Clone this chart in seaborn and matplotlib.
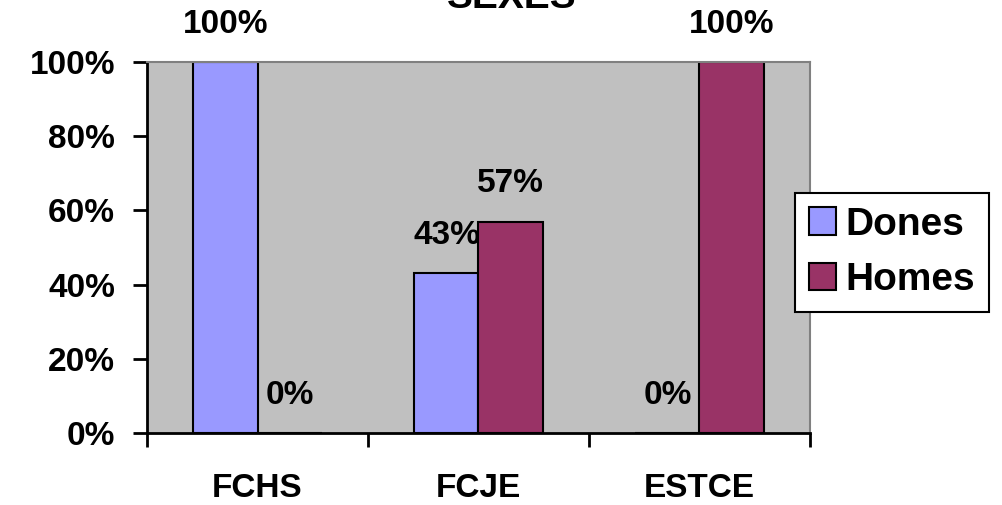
import matplotlib
matplotlib.use("Agg")
import matplotlib.pyplot as plt
import seaborn as sns
import pandas as pd
from matplotlib.ticker import FixedLocator, FuncFormatter

# Share of women and men per faculty (percent)
faculties = ["FCHS", "FCJE", "ESTCE"]
dones = [100, 43, 0]
homes = [0, 57, 100]
series_names = ["Dones", "Homes"]
y_ticks = [0, 20, 40, 60, 80, 100]

df = pd.DataFrame({
    "Facultat": faculties * 2,
    "Sexe": [series_names[0]] * 3 + [series_names[1]] * 3,
    "Percentatge": dones + homes,
})

sns.set_theme(style="white")
plt.rcParams["font.family"] = ["Liberation Sans", "DejaVu Sans"]
plt.rcParams["font.weight"] = "bold"
plt.rcParams["text.color"] = "black"
plt.rcParams["xtick.color"] = "black"
plt.rcParams["ytick.color"] = "black"

FS = 24

W, H = 1003, 505
fig = plt.figure(figsize=(W / 100, H / 100), dpi=100)
ax = fig.add_axes([147 / W, 1 - 433 / H, (810 - 147) / W, (433 - 62) / H])

palette = {"Dones": "#9999FF", "Homes": "#993366"}
sns.barplot(data=df, x="Facultat", y="Percentatge", hue="Sexe",
            palette=palette, width=0.58, edgecolor="black", linewidth=1.5,
            saturation=1, ax=ax, legend=True)

ax.set_facecolor("#C0C0C0")
ax.set_xlim(-0.5, 2.5)
ax.set_ylim(0, 100)
ax.set_xlabel("")
ax.set_ylabel("")

# Plot area frame: grey top/right, black axes
for side in ("top", "right"):
    ax.spines[side].set_color("#808080")
    ax.spines[side].set_linewidth(1.5)
for side in ("left", "bottom"):
    ax.spines[side].set_color("black")
    ax.spines[side].set_linewidth(2)

ax.yaxis.set_major_locator(FixedLocator(y_ticks))
ax.yaxis.set_major_formatter(FuncFormatter(lambda v, p: f"{v:.0f}%"))
ax.tick_params(axis="y", which="major", direction="out", length=10, width=2,
               pad=13, labelsize=FS, left=True, colors="black")
ax.tick_params(axis="x", which="major", length=0, pad=29, labelsize=FS,
               colors="black")
ax.xaxis.set_minor_locator(FixedLocator([-0.5, 0.5, 1.5, 2.5]))
ax.tick_params(axis="x", which="minor", direction="out", length=10, width=2,
               bottom=True, color="black")
for lbl in ax.get_xticklabels() + ax.get_yticklabels():
    lbl.set_fontweight("bold")

# Value labels above each bar
for cont, vals in zip(ax.containers, [dones, homes]):
    ax.bar_label(cont, labels=[f"{v}%" for v in vals], padding=16,
                 fontsize=FS, fontweight="bold", color="black", clip_on=False)

# Legend box
handles, labels = ax.get_legend_handles_labels()
ax.get_legend().remove()
leg = fig.legend(handles, labels, loc="upper left",
                 bbox_to_anchor=(795 / W, 1 - 193 / H), borderaxespad=0,
                 frameon=True, fancybox=False, edgecolor="black",
                 framealpha=1, prop={"size": 28, "weight": "bold"},
                 handlelength=0.7, handleheight=0.7, handletextpad=0.25,
                 labelspacing=0.5, borderpad=0.35)
leg.get_frame().set_linewidth(1.5)

# Chart title (partly above the top edge)
fig.text(512 / W, 1 - 8 / H, "SEXES", ha="center", va="baseline",
         fontsize=28, fontweight="bold")

fig.savefig("out.png", dpi=100)
